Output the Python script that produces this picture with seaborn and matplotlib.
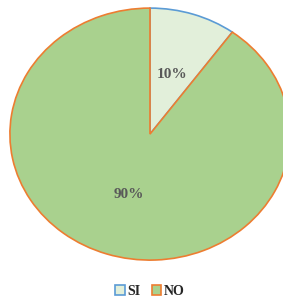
import matplotlib
matplotlib.use('Agg')
import matplotlib.pyplot as plt
import seaborn as sns
from matplotlib.patches import Patch

labels = ['SI', 'NO']
values = [10, 90]
fill_colors = ['#E2EFDA', '#A9D18E']
edge_colors = ['#5B9BD5', '#ED7D31']

sns.set_style('white')
plt.rcParams['font.family'] = ['Liberation Serif', 'DejaVu Serif']

fig = plt.figure(figsize=(2.83, 3.0), dpi=100)
ax = fig.add_axes([0.035, 0.133, 0.99, 0.84])

wedges, texts, autotexts = ax.pie(values, colors=fill_colors, startangle=90, counterclock=False,
                                  autopct='%1.0f%%', pctdistance=0.5,
                                  textprops=dict(fontsize=11, fontweight='bold', color='#595959'))
for w, ec in zip(wedges, edge_colors):
    w.set_edgecolor(ec)
    w.set_linewidth(1.2)
ax.set_aspect('auto')
ax.set_xlim(-1.0, 1.0)
ax.set_ylim(-1.0, 1.0)
ax.axis('off')

handles = [Patch(facecolor=f, edgecolor=e, linewidth=1.2, label=l)
           for f, e, l in zip(fill_colors, edge_colors, labels)]
leg = fig.legend(handles=handles, loc='lower center', bbox_to_anchor=(0.53, -0.035), ncol=2, frameon=False,
                 handlelength=0.7, handleheight=0.7, handletextpad=0.2, columnspacing=0.8,
                 prop=dict(size=10, weight='bold'))
for t in leg.get_texts():
    t.set_color('#262626')

fig.savefig('out.png', dpi=100)
